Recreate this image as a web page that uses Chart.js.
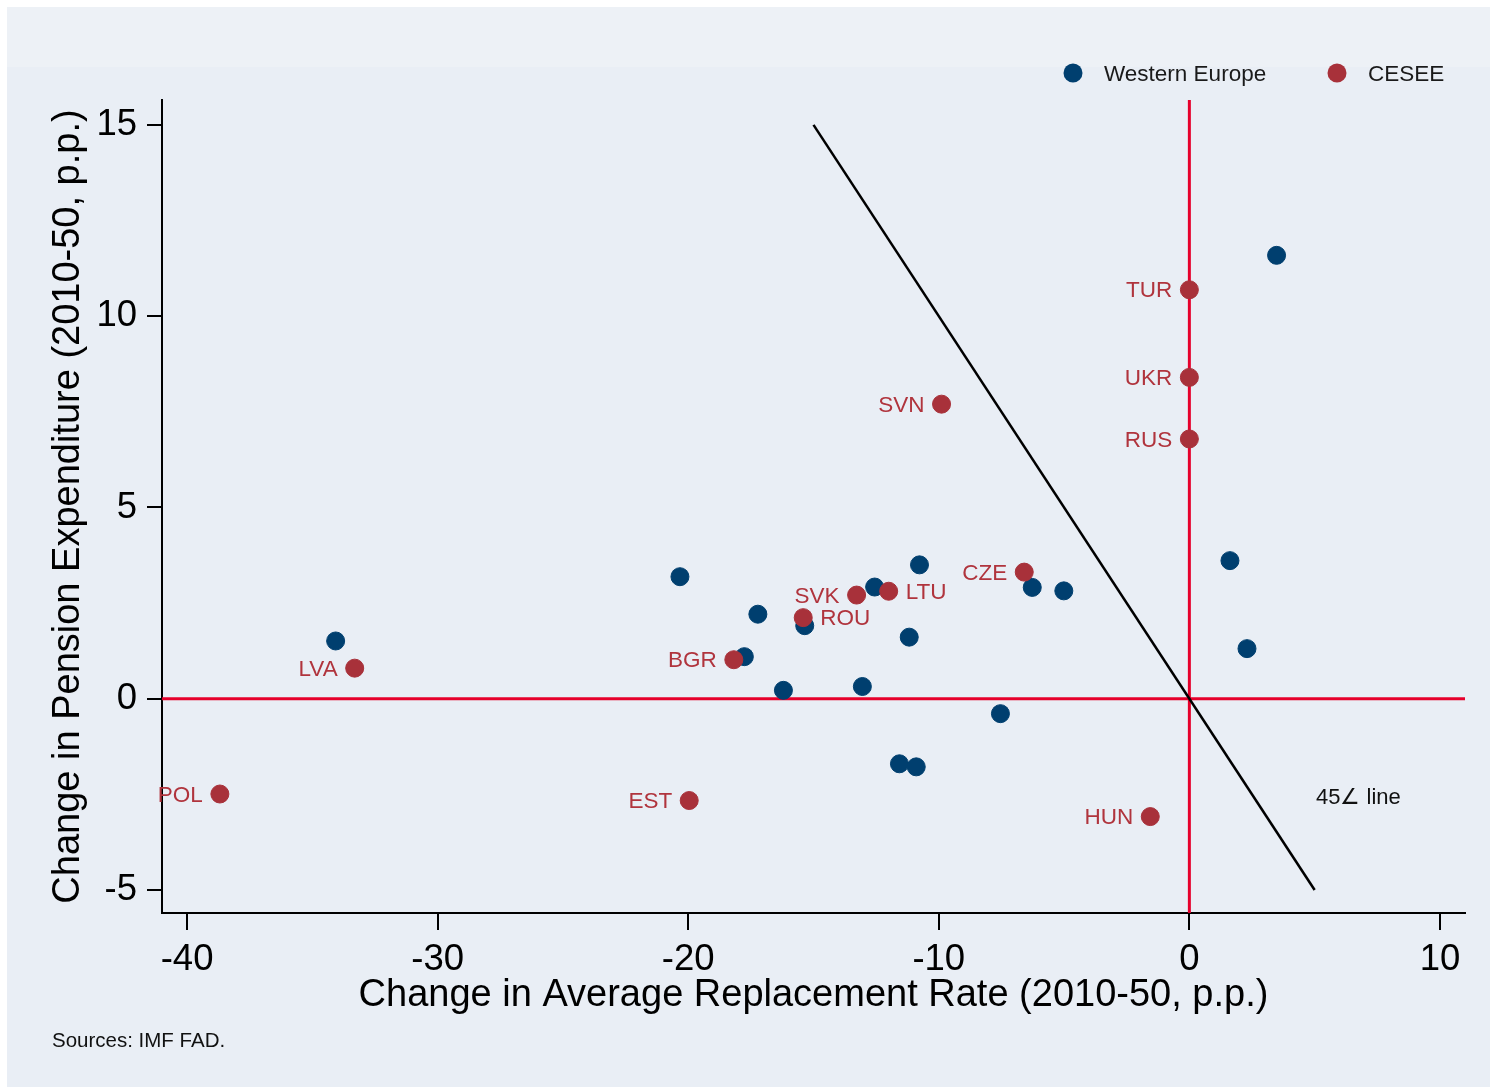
<!DOCTYPE html>
<html>
<head>
<meta charset="utf-8">
<script src="https://cdn.jsdelivr.net/npm/chart.js@4/dist/chart.umd.min.js"></script>
<style>
  html, body { margin: 0; padding: 0; background: #ffffff; }
  canvas { display: block; }
</style>
</head>
<body>
<canvas id="chart" width="1492" height="1089"></canvas>
<script>
// Western Europe: change in replacement rate vs change in pension spending
const westX = [-34.07, -20.33, -17.22, -17.76, -16.20, -15.35, -12.56, -13.05, -11.18, -10.77, -11.57, -10.90, -7.54, -6.27, -5.01, 1.62, 2.30, 3.48];
const westY = [1.51, 3.19, 2.21, 1.10, 0.22, 1.91, 2.92, 0.32, 1.61, 3.50, -1.70, -1.78, -0.39, 2.91, 2.82, 3.61, 1.31, 11.59];

// CESEE countries
const ceseeCodes = ['POL', 'LVA', 'EST', 'BGR', 'ROU', 'SVK', 'LTU', 'SVN', 'CZE', 'TUR', 'UKR', 'RUS', 'HUN'];
const ceseeX = [-38.69, -33.31, -19.96, -18.18, -15.41, -13.28, -12.00, -9.89, -6.59, 0, 0, 0, -1.56];
const ceseeY = [-2.49, 0.80, -2.66, 1.02, 2.12, 2.71, 2.81, 7.70, 3.31, 10.69, 8.40, 6.79, -3.08];
const ceseeLabelSide = ['left', 'left', 'left', 'left', 'right', 'left', 'right', 'left', 'left', 'left', 'left', 'left', 'left'];

// 45-degree reference line and its note
const diagX = [-15, 5];
const diagY = [15, -5];
const diagNote = '45\u2220 line';
const diagNoteAt = [5.05, -2.6];

// Axis ranges and ticks
const xRange = [-41, 11];
const yRange = [-5.6, 15.65];
const xTicks = [-40, -30, -20, -10, 0, 10];
const yTicks = [-5, 0, 5, 10, 15];

const seriesNames = ['Western Europe', 'CESEE'];
const xTitle = 'Change in Average Replacement Rate (2010-50, p.p.)';
const yTitle = 'Change in Pension Expenditure (2010-50, p.p.)';
const sourceNote = 'Sources: IMF FAD.';

const FONT = "Arial, 'Liberation Sans', Helvetica, sans-serif";
const BLUE = '#003f6f';
const RED = '#a8313a';
const RED_TEXT = '#b0343d';
const REF_RED = '#e6002b';

const toPoints = (xs, ys) => xs.map((x, i) => ({ x: x, y: ys[i] }));

const frame = {
  id: 'frame',
  beforeDraw(chart) {
    const ctx = chart.ctx;
    ctx.save();
    ctx.fillStyle = '#ffffff';
    ctx.fillRect(0, 0, chart.width, chart.height);
    ctx.fillStyle = '#e9eef5';
    ctx.fillRect(7, 7, 1483, 1080);
    ctx.fillStyle = '#edf1f6';
    ctx.fillRect(7, 7, 1483, 60);
    ctx.restore();
  }
};

const annotations = {
  id: 'annotations',
  afterDraw(chart) {
    const ctx = chart.ctx;
    const xs = chart.scales.x, ys = chart.scales.y;
    ctx.save();

    // country codes next to CESEE markers
    const meta = chart.getDatasetMeta(0);
    ctx.font = '22.5px ' + FONT;
    ctx.fillStyle = RED_TEXT;
    ctx.textBaseline = 'middle';
    meta.data.forEach((pt, i) => {
      const side = ceseeLabelSide[i];
      ctx.textAlign = side === 'left' ? 'right' : 'left';
      const dx = side === 'left' ? -17 : 17;
      ctx.fillText(ceseeCodes[i], pt.x + dx, pt.y + 1.5);
    });

    // note for the diagonal
    ctx.fillStyle = '#111111';
    ctx.textAlign = 'left';
    ctx.font = '22px ' + FONT;
    ctx.fillText(diagNote, xs.getPixelForValue(diagNoteAt[0]), ys.getPixelForValue(diagNoteAt[1]));

    // legend
    const legendItems = [
      { label: seriesNames[0], color: BLUE, x: 1073 },
      { label: seriesNames[1], color: RED, x: 1337 }
    ];
    ctx.font = '22.5px ' + FONT;
    legendItems.forEach(it => {
      ctx.beginPath();
      ctx.arc(it.x, 73, 9.5, 0, Math.PI * 2);
      ctx.fillStyle = it.color;
      ctx.fill();
      ctx.fillStyle = '#1a1a1a';
      ctx.textAlign = 'left';
      ctx.fillText(it.label, it.x + 31, 75);
    });

    // source line
    ctx.font = '20.5px ' + FONT;
    ctx.textBaseline = 'alphabetic';
    ctx.fillStyle = '#111111';
    ctx.fillText(sourceNote, 52, 1047);
    ctx.restore();
  }
};

new Chart(document.getElementById('chart'), {
  type: 'scatter',
  data: {
    datasets: [
      {
        label: seriesNames[1],
        data: toPoints(ceseeX, ceseeY),
        backgroundColor: RED,
        borderColor: RED,
        borderWidth: 1,
        pointRadius: 9,
        pointHoverRadius: 9,
        order: 0
      },
      {
        label: seriesNames[0],
        data: toPoints(westX, westY),
        backgroundColor: BLUE,
        borderColor: BLUE,
        borderWidth: 1,
        pointRadius: 9,
        pointHoverRadius: 9,
        order: 1
      },
      {
        label: '45 line',
        data: toPoints(diagX, diagY),
        showLine: true,
        borderColor: '#000000',
        borderWidth: 2.5,
        pointRadius: 0,
        order: 2
      },
      {
        label: 'zero x',
        data: toPoints(xRange, [0, 0]),
        showLine: true,
        borderColor: REF_RED,
        borderWidth: 3,
        pointRadius: 0,
        order: 3
      },
      {
        label: 'zero y',
        data: toPoints([0, 0], yRange),
        showLine: true,
        borderColor: REF_RED,
        borderWidth: 3,
        pointRadius: 0,
        order: 3
      }
    ]
  },
  options: {
    responsive: false,
    devicePixelRatio: 1,
    animation: false,
    events: [],
    layout: { padding: { left: 0, top: 100, right: 27, bottom: 69 } },
    plugins: {
      legend: { display: false },
      tooltip: { enabled: false }
    },
    scales: {
      x: {
        type: 'linear',
        min: xRange[0],
        max: xRange[1],
        afterBuildTicks: s => { s.ticks = xTicks.map(v => ({ value: v })); },
        afterFit: s => { s.height = 107; },
        grid: { display: true, drawOnChartArea: false, drawTicks: true, tickLength: 17, color: '#000000', lineWidth: 2 },
        border: { display: true, color: '#000000', width: 2 },
        ticks: { color: '#000000', padding: 8, maxRotation: 0, font: { family: FONT, size: 36.5 } },
        title: { display: true, text: xTitle, color: '#000000', padding: { top: 0, bottom: 2 }, font: { family: FONT, size: 38 } }
      },
      y: {
        type: 'linear',
        min: yRange[0],
        max: yRange[1],
        afterBuildTicks: s => { s.ticks = yTicks.map(v => ({ value: v })); },
        afterFit: s => { s.width = 162; },
        grid: { display: true, drawOnChartArea: false, drawTicks: true, tickLength: 15, color: '#000000', lineWidth: 2 },
        border: { display: true, color: '#000000', width: 2 },
        ticks: { color: '#000000', padding: 10, font: { family: FONT, size: 36.5 } },
        title: { display: true, text: yTitle, color: '#000000', padding: { top: 46, bottom: 0 }, font: { family: FONT, size: 38 } }
      }
    }
  },
  plugins: [frame, annotations]
});
</script>
</body>
</html>
